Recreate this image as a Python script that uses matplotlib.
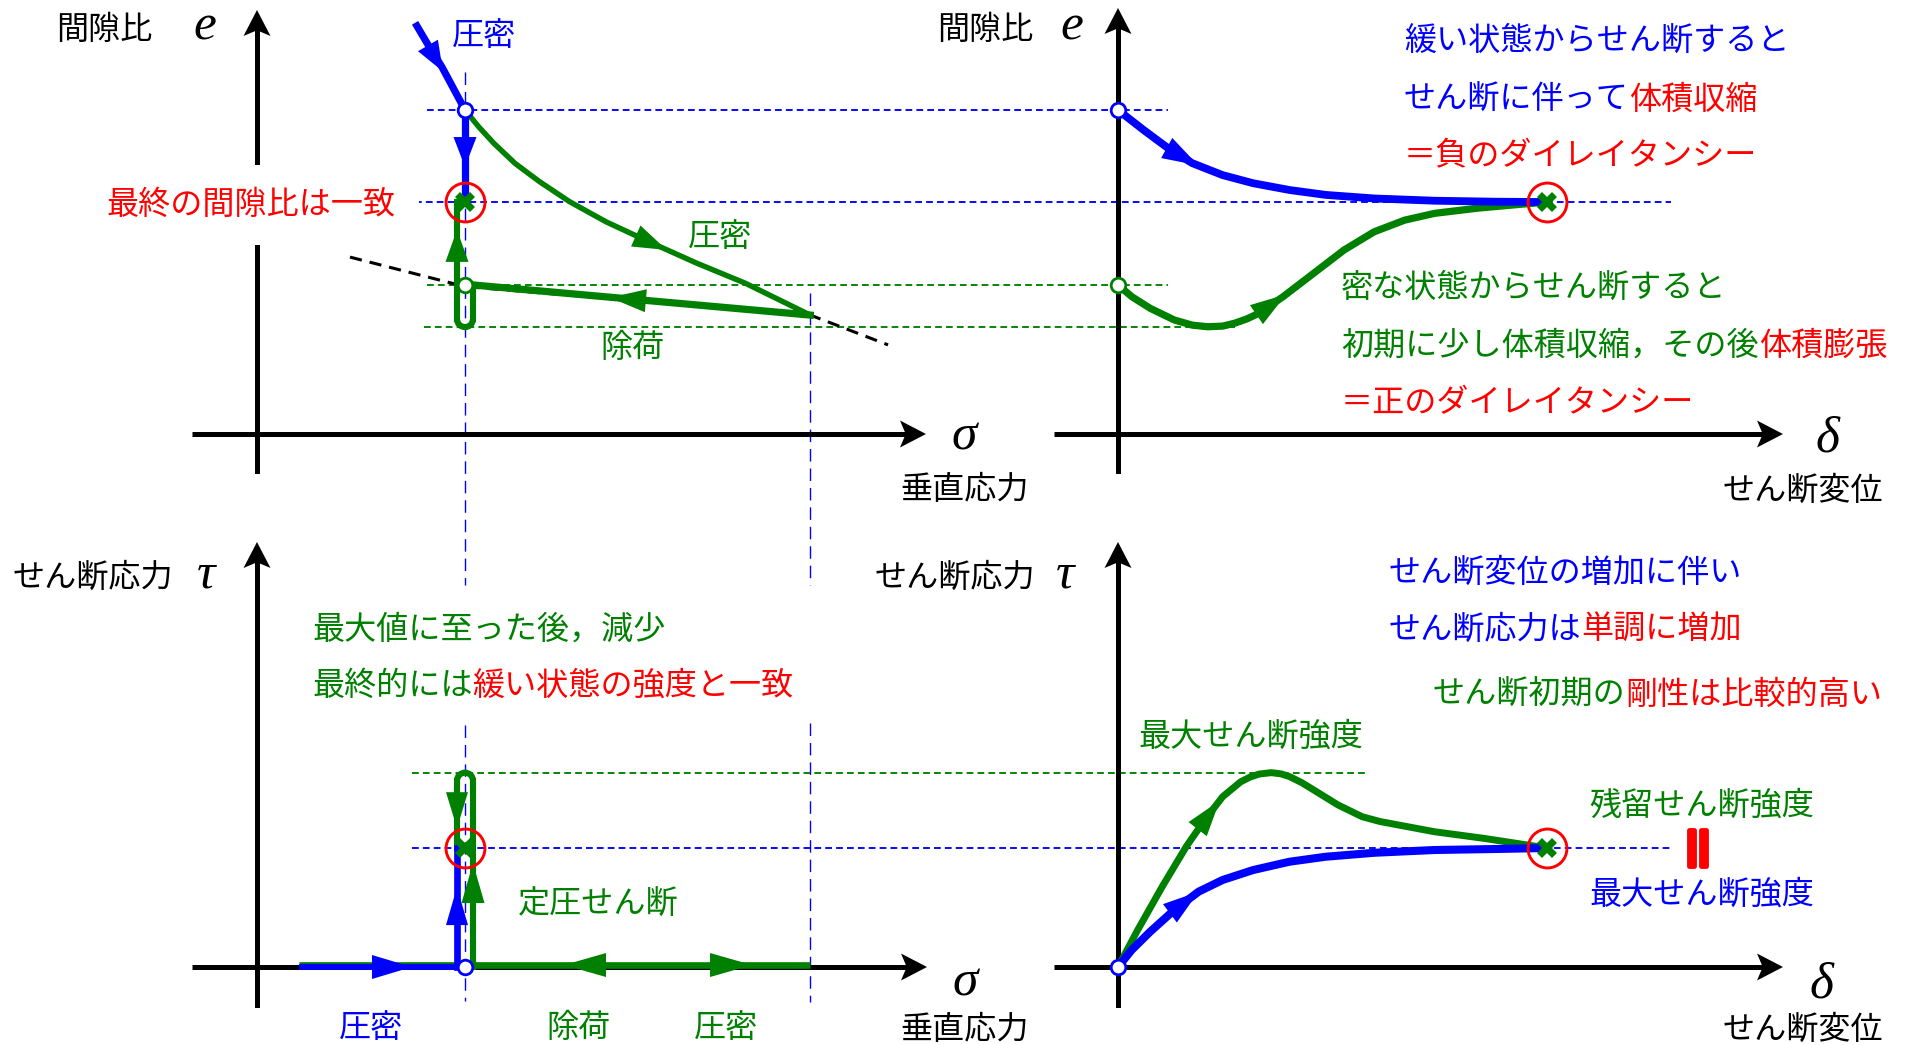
import numpy as np
import matplotlib.pyplot as plt
from matplotlib.patches import Arc, Polygon
from matplotlib.transforms import IdentityTransform
import matplotlib.patheffects as pe

plt.rcParams['font.family'] = ['Noto Sans CJK JP', 'DejaVu Sans']

W, H = 1906, 1045
BLUE, GREEN, RED = '#0000ff', '#008000', '#ff0000'
FS = 23.1
DY = 3   # CJK glyphs sit a little high in their box
GREEK = dict(family=['Liberation Serif'], style='italic', fontsize=37)

## schematic values (sigma, tau in kPa, delta in mm, e = void ratio) ##
sig_start = 20.0
sig_0 = 100.0        # normal stress during constant-pressure shear
sig_max = 266.0      # consolidation stress of the dense sample
e_loose = 1.0
e_dense = 0.46
e_dense_min = 0.33
e_crit = 0.716       # final void ratio, both samples
e_at_max = 0.367
tau_res = 60.0
tau_peak = 98.0
delta_end = 10.0

# consolidation line of the loose sample up to sig_0
ncl0_sig = [76.0, 81.7, 88.9, 100.0]
ncl0_e = [1.269, 1.207, 1.133, 1.0]
# consolidation line continued to sig_max (dense sample)
ncl_sig = [100.0, 106.6, 113.9, 124.1, 135.8, 150.3, 167.8, 188.2, 211.5, 234.9, 266.0]
ncl_e = [1.0, 0.948, 0.897, 0.835, 0.779, 0.717, 0.655, 0.594, 0.527, 0.465, 0.367]
# black dashed guide line
ref_sig = [44.7, 100.0, 266.0, 303.4]
ref_e = [0.546, 0.455, 0.367, 0.275]

# e - delta
loose_d = [0.0, 0.60, 1.17, 1.73, 2.44, 3.15, 4.0, 4.84, 5.97, 7.38, 8.80, 10.0]
loose_e = [1.0, 0.938, 0.882, 0.836, 0.799, 0.774, 0.753, 0.738, 0.727, 0.720, 0.717, 0.716]
dense_d = [0.0, 0.32, 0.75, 1.31, 1.73, 2.09, 2.44, 2.72, 3.0, 3.29, 3.85, 4.56, 5.27, 5.97,
           6.68, 7.38, 8.38, 9.22, 10.0]
dense_e = [0.46, 0.424, 0.388, 0.352, 0.336, 0.331, 0.333, 0.342, 0.355, 0.373, 0.424, 0.496,
           0.568, 0.624, 0.660, 0.681, 0.697, 0.707, 0.716]

# tau - delta
loose_dt = [0.0, 0.32, 0.75, 1.31, 1.88, 2.44, 3.15, 4.0, 4.84, 5.97, 7.38, 8.80, 10.0]
loose_tau = [0.0, 8.6, 17.8, 28.7, 38.0, 43.9, 48.9, 53.1, 55.6, 57.6, 59.0, 59.5, 60.0]
dense_dt = [0.0, 0.46, 1.03, 1.59, 2.02, 2.44, 2.86, 3.08, 3.29, 3.57, 3.8, 4.0, 4.28, 4.56,
            5.13, 5.69, 6.1, 6.54, 7.38, 8.52, 10.0]
dense_tau = [0.0, 18.7, 40.5, 60.7, 74.1, 85.9, 93.4, 95.8, 97.3, 98.0, 97.4, 96.0, 93.0, 89.3,
             81.7, 75.8, 73.4, 71.6, 68.2, 64.9, 60.0]

fig = plt.figure(figsize=(W / 100, H / 100), dpi=100)


def panel(box, origin, scale):
    # box = pixel frame (left, top, right, bottom), origin = pixel of (0, 0)
    x0, y0, x1, y1 = box
    ox, oy = origin
    sx, sy = scale
    ax = fig.add_axes([x0 / W, 1 - y1 / H, (x1 - x0) / W, (y1 - y0) / H])
    ax.set_xlim((x0 - ox) / sx, (x1 - ox) / sx)
    ax.set_ylim((oy - y1) / sy, (oy - y0) / sy)
    ax.axis('off')
    return ax


def unit_dir(ax, tip, back):
    t = ax.transData.transform(tip)
    b = ax.transData.transform(back)
    return t, (t - b) / np.hypot(*(t - b))


def head(ax, tip, back, color, length=34, width=22, notch=0.0, z=6):
    t, d = unit_dir(ax, tip, back)
    n = np.array([-d[1], d[0]])
    base = t - d * length
    pts = [t, base + n * width / 2, t - d * length * (1 - notch), base - n * width / 2]
    ax.add_patch(Polygon(pts, closed=True, transform=IdentityTransform(), fc=color,
                         ec='none', zorder=z, clip_on=False))


def frame(ax):
    (x0, x1), (y0, y1) = ax.get_xlim(), ax.get_ylim()
    for start, tip in [((x0, 0), (x1, 0)), ((0, y0), (0, y1))]:
        t, d = unit_dir(ax, tip, start)
        end = ax.transData.inverted().transform(t - d * 12)
        ax.plot([start[0], end[0]], [start[1], end[1]], color='k', lw=3.6,
                solid_capstyle='butt', zorder=2)
        head(ax, tip, start, 'k', 26, 27, notch=0.22, z=2)


def dashed(ax, xs, ys, color, lw=1.35, dash=(3.6, 2.2)):
    ax.plot(xs, ys, color=color, lw=lw, dashes=dash, clip_on=False, zorder=1)


def vdashed(ax, x, ys):
    dashed(ax, [x, x], ys, BLUE, lw=1.0, dash=(9, 5))


def start_pt(ax, x, y, color):
    ax.plot(x, y, 'o', ms=10.5, mfc='white', mec=color, mew=2, zorder=8, clip_on=False)


def end_pt(ax, x, y):
    ax.plot(x, y, 'o', ms=28, mfc='none', mec=RED, mew=2.1, zorder=8, clip_on=False)
    ax.plot(x, y, 'X', ms=14.5, color=GREEN, mew=0, zorder=9, clip_on=False)


S_SIG, S_E, S_D, S_TAU = 2.08, 324.0, 42.9, 1.983
ax1 = panel((192, 10, 926, 474), (257, 434), (S_SIG, S_E))
ax2 = panel((1054, 8, 1783, 474), (1118, 434), (S_D, S_E))
ax3 = panel((192, 542, 927, 1008), (257, 967), (S_SIG, S_TAU))
ax4 = panel((1054, 542, 1783, 1008), (1118, 967), (S_D, S_TAU))
for ax in (ax1, ax2, ax3, ax4):
    frame(ax)

off_sig = 8 / S_SIG     # sideways offset of the shear paths at sig_0
r_e = 8 / S_E
r_tau = 8 / S_TAU

## e - sigma ##
ax = ax1
dashed(ax, [81.7, 438], [e_loose] * 2, BLUE)
dashed(ax, [76, 680], [e_crit] * 2, BLUE)
dashed(ax, [81.7, 438], [e_dense] * 2, GREEN)
dashed(ax, [80.3, 470], [e_dense_min] * 2, GREEN)
vdashed(ax, sig_0, [1.117, -0.466])
vdashed(ax, sig_max, [0.435, -0.466])
ax.plot(ref_sig, ref_e, color='k', lw=2.2, dashes=(4, 2.6), zorder=2)

ax.plot(ncl0_sig, ncl0_e, color=BLUE, lw=5.2, solid_capstyle='butt', zorder=4)
ax.plot([sig_0, sig_0], [e_loose, e_crit], color=BLUE, lw=5.2, zorder=4)
head(ax, (89.4, 1.119), (81.3, 1.209), BLUE, 30, 23)
head(ax, (sig_0, 0.824), (sig_0, 0.95), BLUE, 30, 23)

ax.plot(ncl_sig, ncl_e, color=GREEN, lw=3.9, zorder=3, solid_joinstyle='round')
ax.plot([sig_max, sig_0 + off_sig], [e_at_max, e_dense], color=GREEN, lw=5.2, zorder=3)
ax.plot([sig_0 + off_sig] * 2, [e_dense, e_dense_min + r_e], color=GREEN, lw=4.4, zorder=3)
ax.add_patch(Arc((sig_0, e_dense_min + r_e), 2 * off_sig, 2 * r_e, theta1=180, theta2=360,
                 color=GREEN, lw=4.4, zorder=3))
ax.plot([sig_0 - off_sig] * 2, [e_dense_min + r_e, e_crit], color=GREEN, lw=4.4, zorder=3)
head(ax, (197.0, 0.568), (183.5, 0.607), GREEN, 34, 23)
head(ax, (169.7, 0.421), (200.0, 0.404), GREEN, 36, 23)
head(ax, (sig_0 - off_sig, 0.63), (sig_0 - off_sig, 0.5), GREEN, 32, 23)

start_pt(ax, sig_0, e_loose, BLUE)
start_pt(ax, sig_0, e_dense, GREEN)
end_pt(ax, sig_0, e_crit)

## e - delta ##
ax = ax2
ax.plot(loose_d, loose_e, color=BLUE, lw=5.6, zorder=4, solid_joinstyle='round')
ax.plot(dense_d, dense_e, color=GREEN, lw=5.2, zorder=3, solid_joinstyle='round')
head(ax, (1.87, 0.829), (1.2, 0.878), BLUE, 36, 23)
head(ax, (3.92, 0.431), (3.2, 0.366), GREEN, 36, 23)
start_pt(ax, 0, e_loose, BLUE)
start_pt(ax, 0, e_dense, GREEN)
end_pt(ax, delta_end, e_crit)

## tau - sigma ##
ax = ax3
dashed(ax, [74.5, 534], [tau_peak] * 2, GREEN)
dashed(ax, [74.5, 680], [tau_res] * 2, BLUE)
vdashed(ax, sig_0, [122, -17])
vdashed(ax, sig_max, [123, -17.6])

ax.plot([sig_start, sig_max], [1.0, 1.0], color=GREEN, lw=4.8, solid_capstyle='butt', zorder=3)
ax.plot([sig_start, sig_0 - off_sig], [0, 0], color=BLUE, lw=4.2, solid_capstyle='butt', zorder=4)
ax.plot([sig_0 - off_sig] * 2, [0, tau_res], color=BLUE, lw=4.8, zorder=4)
ax.plot([sig_0 + off_sig] * 2, [0, tau_peak - r_tau], color=GREEN, lw=4.4, zorder=3)
ax.add_patch(Arc((sig_0, tau_peak - r_tau), 2 * off_sig, 2 * r_tau, theta1=0, theta2=180,
                 color=GREEN, lw=4.4, zorder=3))
ax.plot([sig_0 - off_sig] * 2, [tau_peak - r_tau, tau_res], color=GREEN, lw=4.4, zorder=3)

head(ax, (74.5, 0), (50, 0), BLUE, 40, 24)
head(ax, (238, 1.0), (200, 1.0), GREEN, 42, 24)
head(ax, (147.6, 1.0), (180, 1.0), GREEN, 42, 24)
head(ax, (sig_0 - off_sig, 40.3), (sig_0 - off_sig, 20), BLUE, 38, 22)
head(ax, (sig_0 + off_sig, 52.4), (sig_0 + off_sig, 30), GREEN, 40, 23)
head(ax, (sig_0 - off_sig, 70.0), (sig_0 - off_sig, 90), GREEN, 36, 22)

start_pt(ax, sig_0, 0, BLUE)
end_pt(ax, sig_0, tau_res)

## tau - delta ##
ax = ax4
ax.plot(loose_dt, loose_tau, color=BLUE, lw=5.8, zorder=4, solid_joinstyle='round')
ax.plot(dense_dt, dense_tau, color=GREEN, lw=5.0, zorder=3, solid_joinstyle='round')
head(ax, (1.88, 38.0), (1.31, 28.7), BLUE, 36, 23)
head(ax, (2.37, 83.9), (2.02, 74.1), GREEN, 36, 23)
start_pt(ax, 0, 0, BLUE)
end_pt(ax, delta_end, tau_res)

## texts, in pixel coordinates ##
ov = fig.add_axes([0, 0, 1, 1])
ov.set_xlim(0, W)
ov.set_ylim(H, 0)
ov.axis('off')


def rich(x, y, parts, ha='left', **kw):
    if ha == 'left':
        t = ov.text(x, y + DY, parts[0][0], color=parts[0][1], ha='left', va='center',
                    fontsize=FS, **kw)
        for s, c in parts[1:]:
            t = ov.annotate(s, xy=(1, 0), xycoords=t, ha='left', va='bottom', color=c, fontsize=FS)
    else:
        t = ov.text(x, y + DY, parts[-1][0], color=parts[-1][1], ha='right', va='center',
                    fontsize=FS, **kw)
        for s, c in reversed(parts[:-1]):
            t = ov.annotate(s, xy=(0, 0), xycoords=t, ha='right', va='bottom', color=c, fontsize=FS)
    return t


def label(x, y, s, color='k'):
    ov.text(x, y + DY, s, color=color, ha='center', va='center', fontsize=FS)


# axis names
label(104.5, 27, '間隙比')
label(985, 27, '間隙比')
label(92.5, 575, 'せん断応力')
label(955, 575, 'せん断応力')
label(965, 487, '垂直応力')
label(965, 1027, '垂直応力')
label(1803, 488, 'せん断変位')
label(1803, 1027, 'せん断変位')
for x, y, s in [(204.5, 40, 'e'), (1072, 40, 'e'), (964, 449, 'σ'), (1827, 452, 'δ'),
                (206, 587, 'τ'), (1065, 587, 'τ'), (965, 996, 'σ'), (1821, 997, 'δ')]:
    ov.text(x, y, s, ha='center', va='baseline', **GREEK)

# e - sigma notes
rich(451.5, 33, [('圧密', BLUE)])
rich(106, 202, [('最終の間隙比は一致', RED)],
     bbox=dict(boxstyle='square,pad=0.75', fc='white', ec='none'))
rich(688, 234, [('圧密', GREEN)])
rich(600, 345, [('除荷', GREEN)])

# e - delta notes
rich(1404, 38, [('緩い状態からせん断すると', BLUE)])
rich(1404, 97, [('せん断に伴って', BLUE), ('体積収縮', RED)])
rich(1404, 153, [('＝負のダイレイタンシー', RED)])
rich(1341, 285, [('密な状態からせん断すると', GREEN)])
rich(1341, 343, [('初期に少し体積収縮，その後', GREEN), ('体積膨張', RED)])
rich(1341, 400, [('＝正のダイレイタンシー', RED)])

# tau - sigma notes
rich(312, 627, [('最大値に至った後，減少', GREEN)])
rich(312, 683, [('最終的には', GREEN), ('緩い状態の強度と一致', RED)])
rich(518, 902, [('定圧せん断', GREEN)])
label(371, 1025, '圧密', BLUE)
label(579, 1025, '除荷', GREEN)
label(726, 1025, '圧密', GREEN)

# tau - delta notes
rich(1389, 570, [('せん断変位の増加に伴い', BLUE)])
rich(1389, 627, [('せん断応力は', BLUE), ('単調に増加', RED)])
rich(1882, 692, [('せん断初期の', GREEN), ('剛性は比較的高い', RED)], ha='right')
rich(1138, 734, [('最大せん断強度', GREEN)])
rich(1589, 803, [('残留せん断強度', GREEN)])
rich(1589, 892, [('最大せん断強度', BLUE)])
ov.text(1702, 848, '＝', rotation=90, color=RED, fontsize=37, fontweight='bold',
        ha='center', va='center',
        path_effects=[pe.withStroke(linewidth=3.5, foreground=RED)])

fig.savefig('out.png', dpi=100)
